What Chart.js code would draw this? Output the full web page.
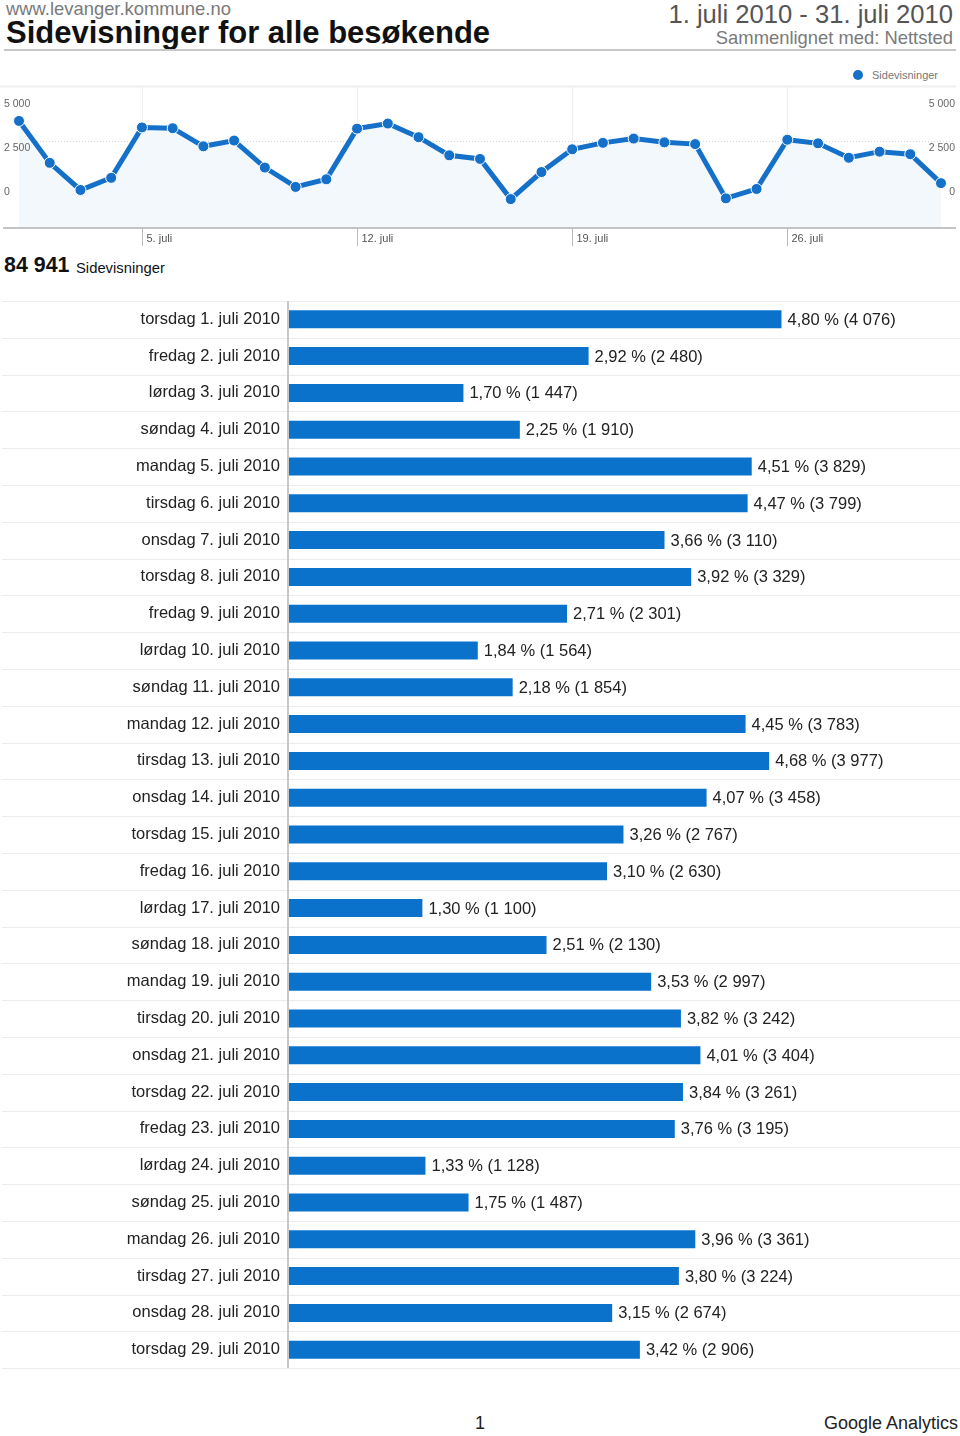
<!DOCTYPE html>
<html><head><meta charset="utf-8">
<script src="https://cdn.jsdelivr.net/npm/chart.js@4.4.1/dist/chart.umd.min.js"></script>
<style>
body{margin:0;width:960px;height:1436px;background:#fff;font-family:"Liberation Sans",Arial,sans-serif;position:relative;overflow:hidden}
.t{position:absolute;white-space:nowrap;line-height:1}
canvas{position:absolute;left:0}
</style></head><body>
<div class="t" style="left:6px;top:0px;font-size:18.4px;color:#7a7a7a">www.levanger.kommune.no</div>
<div class="t" style="left:6px;top:17px;font-size:31px;font-weight:bold;color:#111">Sidevisninger for alle besøkende</div>
<div class="t" style="right:7px;top:2px;font-size:25.6px;color:#555">1. juli 2010 - 31. juli 2010</div>
<div class="t" style="right:7px;top:29px;font-size:18.4px;color:#7a7a7a">Sammenlignet med: Nettsted</div>
<div style="position:absolute;left:4px;top:49px;width:952px;height:2px;background:#c8c8c8"></div>
<div style="position:absolute;left:853px;top:70px;width:10px;height:10px;border-radius:50%;background:#1470c8"></div>
<div class="t" style="left:872px;top:70px;font-size:11px;color:#777">Sidevisninger</div>
<div class="t" style="left:4px;top:255px;font-size:21.4px;font-weight:bold;color:#111">84 941</div>
<div class="t" style="left:76px;top:261px;font-size:14.8px;color:#111">Sidevisninger</div>
<div class="t" style="left:475px;top:1414px;font-size:18px;color:#222">1</div>
<div class="t" style="right:2px;top:1414px;font-size:18px;color:#222">Google Analytics</div>

<canvas id="line" width="960" height="175" style="top:80px"></canvas>
<canvas id="bars" width="960" height="1105" style="top:282px"></canvas>

<script>
// ---- data ----
const dayLabels = [
  'torsdag 1. juli 2010','fredag 2. juli 2010','lørdag 3. juli 2010','søndag 4. juli 2010',
  'mandag 5. juli 2010','tirsdag 6. juli 2010','onsdag 7. juli 2010','torsdag 8. juli 2010',
  'fredag 9. juli 2010','lørdag 10. juli 2010','søndag 11. juli 2010','mandag 12. juli 2010',
  'tirsdag 13. juli 2010','onsdag 14. juli 2010','torsdag 15. juli 2010','fredag 16. juli 2010',
  'lørdag 17. juli 2010','søndag 18. juli 2010','mandag 19. juli 2010','tirsdag 20. juli 2010',
  'onsdag 21. juli 2010','torsdag 22. juli 2010','fredag 23. juli 2010','lørdag 24. juli 2010',
  'søndag 25. juli 2010','mandag 26. juli 2010','tirsdag 27. juli 2010','onsdag 28. juli 2010',
  'torsdag 29. juli 2010'
];
const barPercent = [4.80,2.92,1.70,2.25,4.51,4.47,3.66,3.92,2.71,1.84,2.18,4.45,4.68,4.07,3.26,3.10,
  1.30,2.51,3.53,3.82,4.01,3.84,3.76,1.33,1.75,3.96,3.80,3.15,3.42];
const barViews = [4076,2480,1447,1910,3829,3799,3110,3329,2301,1564,1854,3783,3977,3458,2767,2630,
  1100,2130,2997,3242,3404,3261,3195,1128,1487,3361,3224,2674,2906];
const lineDays = ['1. juli','2. juli','3. juli','4. juli','5. juli','6. juli','7. juli','8. juli','9. juli','10. juli',
  '11. juli','12. juli','13. juli','14. juli','15. juli','16. juli','17. juli','18. juli','19. juli','20. juli',
  '21. juli','22. juli','23. juli','24. juli','25. juli','26. juli','27. juli','28. juli','29. juli','30. juli','31. juli'];
const lineViews = [4076,2480,1447,1910,3829,3799,3110,3329,2301,1564,1854,3783,3977,3458,2767,2630,
  1100,2130,2997,3242,3404,3261,3195,1128,1487,3361,3224,2674,2906,2810,1708];
const weekTicks = ['5. juli','12. juli','19. juli','26. juli'];
const yTickValues = [5000,2500,0];
const yTickLabels = ['5 000','2 500','0'];

const FONT = '"Liberation Sans", Arial, sans-serif';
const fmtThousands = v => String(v).replace(/\B(?=(\d{3})+(?!\d))/g, ' ');
const fmtPct = v => v.toFixed(2).replace('.', ',');

// ---- line chart ----
const lineDeco = {
  id: 'lineDeco',
  beforeDatasetsDraw(chart) {
    const {ctx, chartArea: a, scales} = chart;
    const x = scales.x, yt = scales.yt;
    ctx.save();
    ctx.strokeStyle = '#efefef'; ctx.lineWidth = 2;
    ctx.beginPath(); ctx.moveTo(0, a.top); ctx.lineTo(956, a.top); ctx.stroke();
    ctx.lineWidth = 1; ctx.strokeStyle = '#eeeeee';
    weekTicks.forEach(w => {
      const px = Math.round(x.getPixelForValue(lineDays.indexOf(w))) + 0.5;
      ctx.beginPath(); ctx.moveTo(px, a.top); ctx.lineTo(px, a.bottom); ctx.stroke();
    });
    ctx.setLineDash([1, 2]); ctx.strokeStyle = '#d6d6d6';
    const gy = Math.round(yt.getPixelForValue(2500)) - 6.5;
    ctx.beginPath(); ctx.moveTo(a.left, gy); ctx.lineTo(955, gy); ctx.stroke();
    ctx.restore();
  },
  afterDraw(chart) {
    const {ctx, chartArea: a, scales} = chart;
    const x = scales.x, yt = scales.yt;
    ctx.save();
    ctx.strokeStyle = '#b0b0b0'; ctx.lineWidth = 1.5;
    ctx.beginPath(); ctx.moveTo(3, a.bottom); ctx.lineTo(956, a.bottom); ctx.stroke();
    ctx.lineWidth = 1; ctx.strokeStyle = '#bbbbbb';
    ctx.font = '11px ' + FONT; ctx.fillStyle = '#555'; ctx.textBaseline = 'middle';
    weekTicks.forEach(w => {
      const px = Math.round(x.getPixelForValue(lineDays.indexOf(w))) + 0.5;
      ctx.beginPath(); ctx.moveTo(px, a.bottom); ctx.lineTo(px, a.bottom + 18); ctx.stroke();
      ctx.textAlign = 'left';
      ctx.fillText(w, px + 4, a.bottom + 11);
    });
    ctx.font = '10.5px ' + FONT; ctx.fillStyle = '#666';
    yTickValues.forEach((v, i) => {
      const py = yt.getPixelForValue(v);
      ctx.textAlign = 'left'; ctx.fillText(yTickLabels[i], 4, py);
      ctx.textAlign = 'right'; ctx.fillText(yTickLabels[i], 955, py);
    });
    ctx.restore();
  }
};

new Chart(document.getElementById('line'), {
  type: 'line',
  data: {
    labels: lineDays,
    datasets: [{
      data: lineViews,
      borderColor: '#1470c8',
      borderWidth: 5,
      backgroundColor: '#f3f8fc',
      fill: 'origin',
      tension: 0,
      pointRadius: 5.5,
      pointBackgroundColor: '#1470c8',
      pointBorderColor: '#ffffff',
      pointBorderWidth: 1,
      clip: false
    }]
  },
  options: {
    responsive: false,
    animation: false,
    layout: {padding: {top: 6, bottom: 27, left: 19, right: 19}},
    plugins: {legend: {display: false}, tooltip: {enabled: false}},
    scales: {
      x: {type: 'category', display: false, offset: false},
      y: {type: 'linear', display: false, min: 0, max: 5387},
      yt: {type: 'linear', axis: 'y', display: false, min: -2045, max: 6023}
    }
  },
  plugins: [lineDeco]
});

// ---- bar chart ----
const barDeco = {
  id: 'barDeco',
  beforeDatasetsDraw(chart) {
    const {ctx, chartArea: a, scales} = chart;
    const y = scales.y;
    const step = y.getPixelForValue(1) - y.getPixelForValue(0);
    ctx.save();
    ctx.strokeStyle = '#ececec'; ctx.lineWidth = 1;
    for (let i = 0; i <= dayLabels.length; i++) {
      const py = Math.round(y.getPixelForValue(i) - step / 2) + 0.5;
      ctx.beginPath(); ctx.moveTo(2, py); ctx.lineTo(960, py); ctx.stroke();
    }
    ctx.strokeStyle = '#c8c8c8'; ctx.lineWidth = 2;
    ctx.beginPath(); ctx.moveTo(a.left - 1, a.top); ctx.lineTo(a.left - 1, a.bottom); ctx.stroke();
    ctx.restore();
  },
  afterDatasetsDraw(chart) {
    const {ctx} = chart;
    const meta = chart.getDatasetMeta(0);
    ctx.save();
    ctx.font = '16.5px ' + FONT; ctx.fillStyle = '#222';
    ctx.textAlign = 'left'; ctx.textBaseline = 'middle';
    meta.data.forEach((bar, i) => {
      ctx.fillText(fmtPct(barPercent[i]) + ' % (' + fmtThousands(barViews[i]) + ')', bar.x + 6, bar.y + 1);
    });
    ctx.restore();
  }
};

new Chart(document.getElementById('bars'), {
  type: 'bar',
  data: {
    labels: dayLabels,
    datasets: [{
      data: barPercent,
      backgroundColor: '#0b72cc',
      barPercentage: 0.49,
      categoryPercentage: 1
    }]
  },
  options: {
    indexAxis: 'y',
    responsive: false,
    animation: false,
    layout: {padding: 0},
    plugins: {legend: {display: false}, tooltip: {enabled: false}},
    scales: {
      x: {display: false, min: 0, max: 6.54},
      y: {
        afterFit(s) { s.width = 289; },
        grid: {display: false, drawTicks: false},
        border: {display: false},
        ticks: {font: {family: FONT, size: 16.5}, color: '#222', padding: 9}
      }
    }
  },
  plugins: [barDeco]
});
</script>
</body></html>
